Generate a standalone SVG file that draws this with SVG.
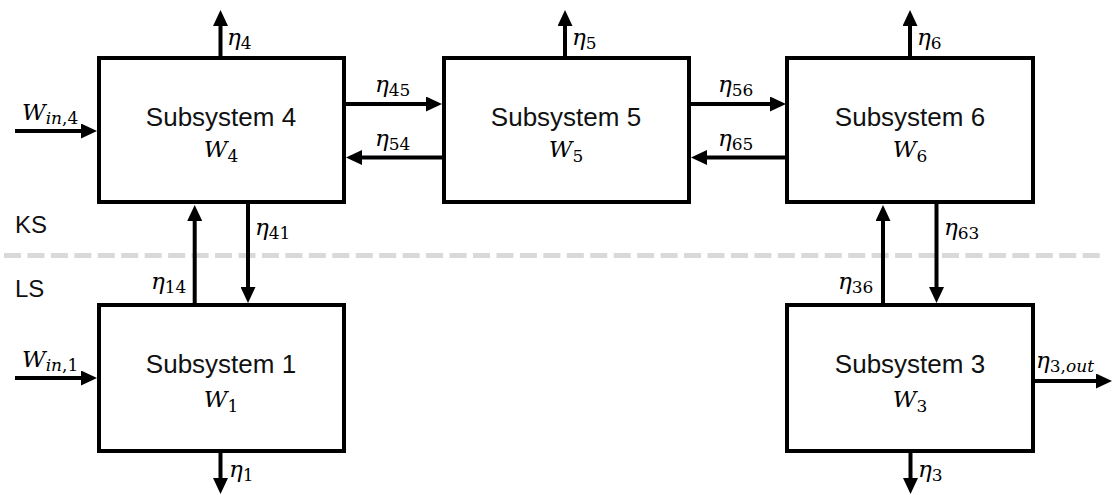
<svg xmlns="http://www.w3.org/2000/svg" width="1112" height="495" viewBox="0 0 1112 495">
  <defs>
    <marker id="arrow" markerUnits="userSpaceOnUse" markerWidth="16" markerHeight="15" refX="1" refY="7.5" orient="auto">
      <path d="M0,0 L16,7.5 L0,15 z" fill="#000"/>
    </marker>
    <style>
      .box { fill: #fff; stroke: #000; stroke-width: 4; }
      .title { font-family: "Liberation Sans", Arial, sans-serif; font-size: 26px; fill: #111; text-anchor: middle; }
      .zone { font-family: "Liberation Sans", Arial, sans-serif; font-size: 24px; fill: #111; }
      .math { font-family: "DejaVu Serif", "Liberation Serif", serif; font-style: italic; font-size: 23px; fill: #000; }
      .mid { text-anchor: middle; }
      .sub { font-size: 17px; font-style: normal; }
      .subi { font-size: 17px; font-style: italic; }
      .flow { fill: none; stroke: #000; stroke-width: 4; marker-end: url(#arrow); }
      .divider { fill: none; stroke: #d9d9d9; stroke-width: 5; stroke-dasharray: 17 6.45; }
    </style>
  </defs>

  <rect width="1112" height="495" fill="#fff"/>

  <!-- level boundary -->
  <path class="divider" d="M4,255.5 H1100"/>
  <text class="zone" x="15" y="233">KS</text>
  <text class="zone" x="15" y="297">LS</text>

  <!-- subsystems -->
  <g id="subsystem4">
    <rect class="box" x="99" y="58" width="245" height="144"/>
    <text class="title" x="221" y="126">Subsystem 4</text>
    <text class="math mid" x="221" y="157">W<tspan class="sub" dy="5">4</tspan></text>
  </g>
  <g id="subsystem5">
    <rect class="box" x="444" y="58" width="245" height="144"/>
    <text class="title" x="566" y="126">Subsystem 5</text>
    <text class="math mid" x="566" y="157">W<tspan class="sub" dy="5">5</tspan></text>
  </g>
  <g id="subsystem6">
    <rect class="box" x="787" y="58" width="246" height="144"/>
    <text class="title" x="910" y="126">Subsystem 6</text>
    <text class="math mid" x="910" y="157">W<tspan class="sub" dy="5">6</tspan></text>
  </g>
  <g id="subsystem1">
    <rect class="box" x="99" y="305" width="245" height="146"/>
    <text class="title" x="221" y="373">Subsystem 1</text>
    <text class="math mid" x="221" y="407">W<tspan class="sub" dy="5">1</tspan></text>
  </g>
  <g id="subsystem3">
    <rect class="box" x="787" y="305" width="246" height="146"/>
    <text class="title" x="910" y="373">Subsystem 3</text>
    <text class="math mid" x="910" y="407">W<tspan class="sub" dy="5">3</tspan></text>
  </g>

  <!-- flows -->
  <g id="connectors">
    <path class="flow" d="M15,131 H82"/>
    <path class="flow" d="M15,378 H82"/>
    <path class="flow" d="M220.5,56 V25"/>
    <path class="flow" d="M565,56 V25"/>
    <path class="flow" d="M910,56 V25"/>
    <path class="flow" d="M346,104 H427"/>
    <path class="flow" d="M442,157.5 H361"/>
    <path class="flow" d="M690,104 H771"/>
    <path class="flow" d="M786,157.5 H706"/>
    <path class="flow" d="M194.7,303 V220"/>
    <path class="flow" d="M248,203 V288"/>
    <path class="flow" d="M883,303 V220"/>
    <path class="flow" d="M936.5,203 V288"/>
    <path class="flow" d="M220.5,453 V479"/>
    <path class="flow" d="M910.5,453 V479"/>
    <path class="flow" d="M1034,381 H1097"/>
  </g>

  <!-- flow labels -->
  <g id="labels">
    <text class="math" x="22" y="120">W<tspan class="subi" dy="4">in</tspan><tspan class="sub">,4</tspan></text>
    <text class="math" x="22" y="367">W<tspan class="subi" dy="4">in</tspan><tspan class="sub">,1</tspan></text>
    <text class="math" x="227" y="45">η<tspan class="sub" dy="4">4</tspan></text>
    <text class="math" x="572" y="45">η<tspan class="sub" dy="4">5</tspan></text>
    <text class="math" x="917" y="45">η<tspan class="sub" dy="4">6</tspan></text>
    <text class="math" x="375" y="92">η<tspan class="sub" dy="4">45</tspan></text>
    <text class="math" x="375" y="146">η<tspan class="sub" dy="4">54</tspan></text>
    <text class="math" x="718" y="92">η<tspan class="sub" dy="4">56</tspan></text>
    <text class="math" x="718" y="146">η<tspan class="sub" dy="4">65</tspan></text>
    <text class="math" x="255" y="235">η<tspan class="sub" dy="4">41</tspan></text>
    <text class="math" x="151" y="289">η<tspan class="sub" dy="4">14</tspan></text>
    <text class="math" x="944" y="235">η<tspan class="sub" dy="4">63</tspan></text>
    <text class="math" x="838" y="289">η<tspan class="sub" dy="4">36</tspan></text>
    <text class="math" x="1036" y="368">η<tspan class="sub" dy="4">3,</tspan><tspan class="subi">out</tspan></text>
    <text class="math" x="229" y="477">η<tspan class="sub" dy="4">1</tspan></text>
    <text class="math" x="918" y="477">η<tspan class="sub" dy="4">3</tspan></text>
  </g>
</svg>
